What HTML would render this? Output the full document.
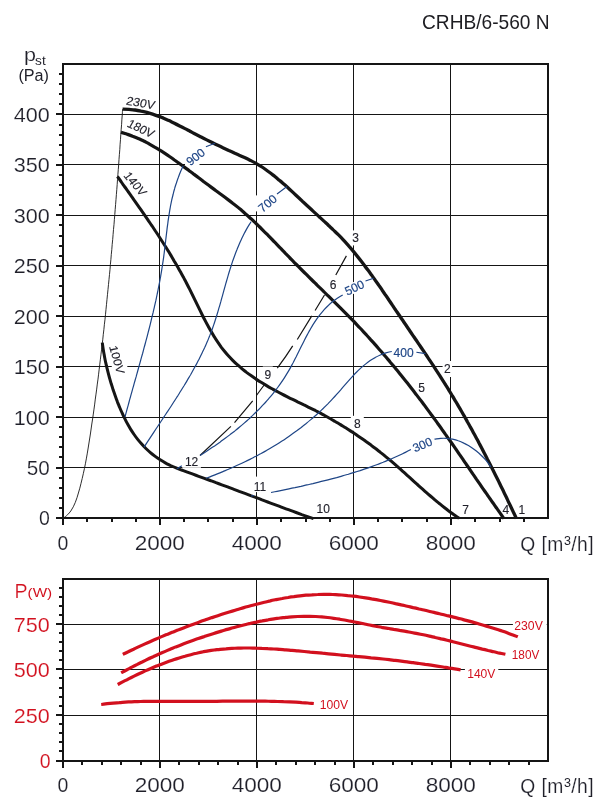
<!DOCTYPE html>
<html><head><meta charset="utf-8"><title>CRHB/6-560 N</title>
<style>html,body{margin:0;padding:0;background:#fff}svg{display:block;will-change:transform}text{stroke:#fff;stroke-width:.16px}.s{stroke:none}.b{stroke:#1f1f29;stroke-width:.14px}.bb{stroke:#1e4586;stroke-width:.18px}</style></head>
<body>
<svg width="605" height="809" viewBox="0 0 605 809" font-family="'Liberation Sans', sans-serif">
<rect width="605" height="809" fill="#fff"/>
<path d="M159.5 64.0V518.0M256.5 64.0V518.0M353.5 64.0V518.0M450.5 64.0V518.0M63.0 114.5H548.0M63.0 164.5H548.0M63.0 215.5H548.0M63.0 265.5H548.0M63.0 316.5H548.0M63.0 366.5H548.0M63.0 417.5H548.0M63.0 467.5H548.0" stroke="#151515" stroke-width="1" fill="none"/>
<path d="M59 508H63M59 498H63M59 488H63M59 478H63M56 468H63M59 457H63M59 447H63M59 437H63M59 427H63M56 417H63M59 407H63M59 397H63M59 387H63M59 377H63M56 367H63M59 357H63M59 347H63M59 336H63M59 326H63M56 316H63M59 306H63M59 296H63M59 286H63M59 276H63M56 266H63M59 256H63M59 246H63M59 236H63M59 225H63M56 215H63M59 205H63M59 195H63M59 185H63M59 175H63M56 165H63M59 155H63M59 145H63M59 135H63M59 125H63M56 114H63M59 104H63M59 94H63M59 84H63M59 74H63M56 518H63M63 518.0V525M87 518.0V522M112 518.0V522M136 518.0V522M160 518.0V525M184 518.0V522M208 518.0V522M233 518.0V522M257 518.0V525M281 518.0V522M306 518.0V522M330 518.0V522M354 518.0V525M378 518.0V522M402 518.0V522M427 518.0V522M451 518.0V525M475 518.0V522M500 518.0V522M524 518.0V522" stroke="#151515" stroke-width="2" fill="none"/>
<path d="M63.6 518.0C64.3 517.5 66.4 515.9 67.6 514.7C68.8 513.6 69.8 512.3 70.8 511.0C71.7 509.7 72.5 508.3 73.3 506.8C74.0 505.4 74.7 503.9 75.3 502.4C75.9 500.9 76.5 499.3 77.0 497.7C77.5 496.2 78.0 494.6 78.4 493.0C78.9 491.4 79.3 489.8 79.8 488.2C80.2 486.6 80.6 485.0 81.0 483.4C81.5 481.8 81.9 480.1 82.2 478.5C82.6 476.9 83.0 475.3 83.3 473.7C83.7 472.0 84.1 470.4 84.4 468.7C84.7 467.1 85.1 465.5 85.4 463.8C85.7 462.2 86.0 460.5 86.3 458.9C86.6 457.2 86.9 455.6 87.2 453.9C87.5 452.3 87.8 450.6 88.0 449.0C88.3 447.3 88.6 445.6 88.8 444.0C89.1 442.3 89.4 440.7 89.6 439.0C89.9 437.3 90.1 435.7 90.4 434.0C90.6 432.4 90.9 430.7 91.1 429.0C91.4 427.4 91.6 425.7 91.8 424.0C92.1 422.4 92.3 420.7 92.6 419.0C92.8 417.4 93.0 415.7 93.3 414.1C93.5 412.4 93.7 410.7 94.0 409.1C94.2 407.4 94.4 405.7 94.7 404.1C94.9 402.4 95.1 400.8 95.3 399.1C95.6 397.4 95.8 395.8 96.0 394.1C96.2 392.4 96.4 390.8 96.7 389.1C96.9 387.5 97.1 385.8 97.3 384.1C97.5 382.5 97.7 380.8 98.0 379.1C98.2 377.5 98.4 375.8 98.6 374.2C98.8 372.5 99.0 370.8 99.2 369.2C99.4 367.5 99.6 365.8 99.8 364.2C100.0 362.5 100.2 360.9 100.4 359.2C100.6 357.5 100.8 355.9 101.0 354.2C101.2 352.5 101.4 350.9 101.6 349.2C101.8 347.6 102.0 345.9 102.2 344.2C102.4 342.6 102.6 340.9 102.8 339.2C102.9 337.6 103.1 335.9 103.3 334.3C103.5 332.6 103.7 330.9 103.9 329.3C104.1 327.6 104.2 325.9 104.4 324.3C104.6 322.6 104.8 321.0 105.0 319.3C105.1 317.6 105.3 316.0 105.5 314.3C105.7 312.6 105.8 311.0 106.0 309.3C106.2 307.6 106.4 306.0 106.5 304.3C106.7 302.7 106.9 301.0 107.0 299.3C107.2 297.7 107.4 296.0 107.5 294.3C107.7 292.7 107.9 291.0 108.0 289.4C108.2 287.7 108.4 286.0 108.5 284.4C108.7 282.7 108.9 281.0 109.0 279.4C109.2 277.7 109.3 276.0 109.5 274.4C109.7 272.7 109.8 271.1 110.0 269.4C110.1 267.7 110.3 266.1 110.4 264.4C110.6 262.7 110.7 261.1 110.9 259.4C111.0 257.7 111.2 256.1 111.3 254.4C111.5 252.7 111.6 251.1 111.8 249.4C111.9 247.8 112.1 246.1 112.2 244.4C112.4 242.8 112.5 241.1 112.7 239.4C112.8 237.8 113.0 236.1 113.1 234.4C113.2 232.8 113.4 231.1 113.5 229.4C113.7 227.8 113.8 226.1 114.0 224.4C114.1 222.8 114.2 221.1 114.4 219.4C114.5 217.8 114.6 216.1 114.8 214.4C114.9 212.8 115.1 211.1 115.2 209.4C115.3 207.8 115.5 206.1 115.6 204.4C115.7 202.8 115.9 201.1 116.0 199.4C116.1 197.8 116.3 196.1 116.4 194.4C116.5 192.8 116.6 191.1 116.8 189.4C116.9 187.8 117.0 186.1 117.2 184.4C117.3 182.8 117.4 181.1 117.5 179.4C117.7 177.7 117.8 176.1 117.9 174.4C118.0 172.7 118.2 171.1 118.3 169.4C118.4 167.7 118.5 166.1 118.7 164.4C118.8 162.7 118.9 161.0 119.0 159.4C119.2 157.7 119.3 156.0 119.4 154.4C119.5 152.7 119.7 151.0 119.8 149.4C119.9 147.7 120.0 146.0 120.1 144.3C120.3 142.7 120.4 141.0 120.5 139.3C120.6 137.7 120.7 136.0 120.8 134.3C121.0 132.6 121.1 131.0 121.2 129.3C121.3 127.6 121.4 125.9 121.6 124.3C121.7 122.6 121.8 120.9 121.9 119.2C122.0 117.6 122.1 115.9 122.3 114.2C122.4 112.5 122.5 110.0 122.6 109.2" stroke="#151515" stroke-width="0.9" fill="none"/>
<path d="M200 455.5L230.9 426.4M234.5 422.7L252.7 400.9M256.4 395.5L264.5 384.5M277.3 368.2Q286 356.5 292.7 345.9M297.3 339.5L311.8 315.9M315.1 310.5L324.5 295M335.8 275L346.4 255.9" stroke="#151515" stroke-width="1.2" fill="none"/>
<rect x="442.6" y="361.0" width="9.5" height="16.0" fill="#fff"/>
<rect x="350.9" y="230.4" width="9.5" height="15.0" fill="#fff"/>
<rect x="328.2" y="279.1" width="9.5" height="11.0" fill="#fff"/>
<rect x="350.8" y="415.8" width="13.0" height="15.0" fill="#fff"/>
<rect x="262.8" y="366.5" width="10.0" height="16.0" fill="#fff"/>
<rect x="251.4" y="481.1" width="17.0" height="11.0" fill="#fff"/>
<rect x="255" y="476.6" width="3" height="12" fill="#fff"/>
<rect x="182.3" y="455.8" width="18.6" height="12.0" fill="#fff"/>
<rect transform="translate(195.4 156.8) rotate(-38.0)" x="-11.0" y="-5.4" width="22.0" height="10.8" fill="#fff"/>
<rect x="185" y="163" width="14.5" height="3" fill="#fff"/>
<rect x="255" y="195.4" width="3" height="16" fill="#fff"/>
<rect transform="translate(267.5 203.3) rotate(-40.0)" x="-11.0" y="-5.4" width="22.0" height="10.8" fill="#fff"/>
<rect transform="translate(354.5 287.5) rotate(-25.0)" x="-11.0" y="-5.4" width="22.0" height="10.8" fill="#fff"/>
<rect transform="translate(403.6 352.7) rotate(0.0)" x="-11.0" y="-5.4" width="22.0" height="10.8" fill="#fff"/>
<rect transform="translate(422.4 444.6) rotate(-24.0)" x="-11.0" y="-5.4" width="22.0" height="10.8" fill="#fff"/>
<rect transform="translate(109.0 346.4) rotate(74.0)" x="-1" y="-12.1" width="31.0" height="15.0" fill="#fff"/>
<path d="M122.6 109.2C123.7 109.2 126.9 109.3 129.0 109.4C131.0 109.5 133.1 109.8 135.1 110.0C137.1 110.3 139.1 110.7 141.1 111.1C143.0 111.4 145.0 111.9 146.9 112.4C148.8 112.9 150.7 113.5 152.6 114.1C154.4 114.7 156.3 115.4 158.1 116.1C160.0 116.7 161.8 117.5 163.6 118.2C165.4 119.0 167.2 119.8 169.0 120.6C170.8 121.5 172.6 122.3 174.4 123.2C176.1 124.1 177.9 125.0 179.7 125.9C181.5 126.8 183.2 127.7 185.0 128.6C186.8 129.6 188.6 130.5 190.4 131.5C192.1 132.4 193.9 133.4 195.7 134.3C197.6 135.2 199.4 136.2 201.2 137.1C203.0 138.0 204.9 139.0 206.7 139.9C208.5 140.8 210.4 141.7 212.2 142.6C214.1 143.5 215.9 144.4 217.8 145.3C219.6 146.2 221.5 147.1 223.3 147.9C225.1 148.8 227.0 149.6 228.8 150.5C230.7 151.3 232.5 152.1 234.3 153.0C236.1 153.8 237.9 154.6 239.7 155.4C241.5 156.2 243.3 157.0 245.1 157.8C246.9 158.7 248.6 159.5 250.4 160.4C252.1 161.3 253.8 162.2 255.6 163.1C257.3 164.1 258.9 165.1 260.6 166.2C262.3 167.2 263.9 168.3 265.6 169.5C267.2 170.6 268.8 171.8 270.4 173.0C272.0 174.2 273.6 175.5 275.2 176.7C276.7 178.0 278.3 179.3 279.8 180.6C281.4 181.9 282.9 183.3 284.4 184.6C286.0 186.0 287.5 187.4 289.0 188.7C290.5 190.1 292.0 191.5 293.5 192.9C295.0 194.3 296.4 195.6 297.9 197.0C299.4 198.4 300.9 199.8 302.3 201.2C303.8 202.5 305.3 203.9 306.7 205.2C308.2 206.6 309.7 208.0 311.1 209.3C312.6 210.7 314.0 212.0 315.5 213.4C316.9 214.7 318.4 216.1 319.9 217.4C321.3 218.7 322.8 220.1 324.2 221.4C325.7 222.8 327.2 224.1 328.6 225.5C330.1 226.9 331.6 228.2 333.0 229.6C334.5 231.0 335.9 232.4 337.4 233.8C338.8 235.2 340.3 236.6 341.7 238.1C343.1 239.6 344.4 241.1 345.8 242.6C347.2 244.1 348.5 245.6 349.8 247.2C351.2 248.7 352.5 250.3 353.8 251.9C355.0 253.4 356.3 255.0 357.6 256.6C358.8 258.1 360.1 259.7 361.3 261.3C362.5 262.9 363.7 264.5 364.9 266.1C366.1 267.6 367.3 269.2 368.5 270.8C369.7 272.4 370.8 274.0 372.0 275.6C373.1 277.2 374.3 278.8 375.4 280.5C376.6 282.1 377.7 283.7 378.8 285.3C380.0 286.9 381.1 288.5 382.2 290.2C383.3 291.8 384.4 293.4 385.5 295.1C386.7 296.7 387.8 298.3 388.9 300.0C390.0 301.6 391.1 303.2 392.2 304.9C393.3 306.5 394.4 308.2 395.5 309.8C396.6 311.5 397.8 313.1 398.9 314.8C400.0 316.4 401.1 318.1 402.3 319.8C403.4 321.4 404.5 323.1 405.7 324.8C406.8 326.4 407.9 328.1 409.1 329.8C410.2 331.4 411.4 333.1 412.5 334.8C413.6 336.5 414.8 338.1 415.9 339.8C417.1 341.5 418.2 343.2 419.4 344.9C420.5 346.6 421.7 348.3 422.8 349.9C423.9 351.6 425.1 353.3 426.2 355.0C427.3 356.7 428.5 358.4 429.6 360.1C430.7 361.8 431.9 363.5 433.0 365.2C434.1 366.9 435.2 368.6 436.3 370.3C437.4 372.0 438.5 373.7 439.6 375.4C440.7 377.2 441.8 378.9 442.9 380.6C444.0 382.3 445.1 384.0 446.1 385.7C447.2 387.4 448.3 389.1 449.3 390.9C450.4 392.6 451.4 394.3 452.4 396.0C453.5 397.7 454.5 399.5 455.5 401.2C456.6 402.9 457.6 404.6 458.6 406.4C459.6 408.1 460.6 409.8 461.6 411.5C462.6 413.3 463.6 415.0 464.6 416.7C465.6 418.5 466.6 420.2 467.5 422.0C468.5 423.7 469.5 425.4 470.4 427.2C471.4 428.9 472.4 430.7 473.3 432.4C474.3 434.2 475.2 435.9 476.2 437.7C477.1 439.4 478.1 441.2 479.0 443.0C479.9 444.7 480.9 446.5 481.8 448.2C482.7 450.0 483.6 451.8 484.5 453.5C485.5 455.3 486.4 457.1 487.3 458.9C488.2 460.6 489.1 462.4 490.0 464.2C490.9 466.0 491.8 467.8 492.7 469.5C493.6 471.3 494.5 473.1 495.4 474.9C496.3 476.7 497.2 478.5 498.1 480.3C499.0 482.1 499.8 483.9 500.7 485.7C501.6 487.5 502.5 489.3 503.4 491.1C504.2 493.0 505.1 494.8 506.0 496.6C506.9 498.4 507.7 500.2 508.6 502.1C509.5 503.9 510.3 505.7 511.2 507.5C512.1 509.4 512.9 511.2 513.8 513.1C514.7 514.9 516.0 517.7 516.4 518.6" stroke="#151515" stroke-width="3.3" fill="none" stroke-linejoin="round"/>
<path d="M121.0 132.3C122.0 132.6 125.0 133.4 126.9 134.1C128.8 134.7 130.7 135.4 132.6 136.2C134.5 136.9 136.4 137.7 138.2 138.5C140.1 139.3 141.9 140.2 143.7 141.0C145.5 141.9 147.2 142.9 149.0 143.8C150.8 144.8 152.5 145.8 154.2 146.8C156.0 147.8 157.7 148.8 159.4 149.9C161.1 150.9 162.8 152.0 164.5 153.1C166.1 154.2 167.8 155.4 169.5 156.5C171.1 157.6 172.8 158.8 174.4 160.0C176.1 161.1 177.7 162.3 179.4 163.5C181.0 164.7 182.7 165.9 184.3 167.1C185.9 168.3 187.6 169.5 189.2 170.7C190.8 171.9 192.5 173.1 194.1 174.4C195.7 175.6 197.3 176.8 199.0 178.0C200.6 179.2 202.2 180.4 203.8 181.7C205.5 182.9 207.1 184.1 208.7 185.3C210.3 186.5 211.9 187.7 213.5 188.9C215.1 190.1 216.8 191.3 218.4 192.5C220.0 193.7 221.6 194.8 223.2 196.0C224.8 197.2 226.4 198.4 228.0 199.6C229.6 200.8 231.2 202.0 232.7 203.2C234.3 204.4 235.9 205.6 237.4 206.9C238.9 208.2 240.5 209.4 242.0 210.7C243.5 212.0 245.0 213.4 246.5 214.7C248.0 216.0 249.5 217.4 251.0 218.7C252.4 220.1 253.9 221.5 255.4 222.8C256.8 224.2 258.3 225.6 259.7 227.0C261.2 228.5 262.6 229.9 264.0 231.3C265.5 232.7 266.9 234.2 268.3 235.6C269.7 237.1 271.1 238.5 272.6 240.0C274.0 241.4 275.4 242.9 276.8 244.3C278.2 245.8 279.6 247.3 281.0 248.7C282.4 250.2 283.8 251.6 285.2 253.1C286.7 254.6 288.1 256.0 289.5 257.5C290.9 258.9 292.3 260.4 293.7 261.8C295.1 263.3 296.6 264.7 298.0 266.2C299.4 267.6 300.8 269.0 302.3 270.5C303.7 271.9 305.1 273.3 306.6 274.7C308.0 276.2 309.4 277.6 310.9 279.0C312.3 280.4 313.7 281.8 315.2 283.2C316.6 284.6 318.1 286.0 319.5 287.4C321.0 288.8 322.4 290.2 323.8 291.7C325.3 293.1 326.7 294.5 328.2 295.9C329.6 297.3 331.0 298.7 332.5 300.1C333.9 301.5 335.3 302.9 336.8 304.3C338.2 305.7 339.6 307.1 341.1 308.6C342.5 310.0 343.9 311.4 345.3 312.8C346.7 314.3 348.1 315.7 349.5 317.1C351.0 318.6 352.4 320.0 353.8 321.4C355.1 322.9 356.5 324.4 357.9 325.8C359.3 327.3 360.7 328.7 362.1 330.2C363.4 331.7 364.8 333.2 366.2 334.7C367.5 336.1 368.9 337.6 370.2 339.1C371.6 340.6 372.9 342.1 374.3 343.6C375.6 345.1 377.0 346.7 378.3 348.2C379.6 349.7 381.0 351.2 382.3 352.7C383.6 354.3 384.9 355.8 386.2 357.3C387.5 358.9 388.8 360.4 390.1 362.0C391.4 363.5 392.7 365.1 394.0 366.6C395.3 368.2 396.6 369.7 397.9 371.3C399.2 372.9 400.4 374.4 401.7 376.0C403.0 377.6 404.2 379.2 405.5 380.7C406.8 382.3 408.0 383.9 409.3 385.5C410.5 387.1 411.7 388.7 413.0 390.3C414.2 391.9 415.5 393.5 416.7 395.1C417.9 396.7 419.1 398.3 420.4 399.9C421.6 401.5 422.8 403.1 424.0 404.7C425.2 406.4 426.4 408.0 427.6 409.6C428.8 411.2 430.0 412.8 431.2 414.5C432.4 416.1 433.6 417.7 434.8 419.4C436.0 421.0 437.2 422.6 438.3 424.3C439.5 425.9 440.7 427.5 441.8 429.2C443.0 430.8 444.2 432.5 445.3 434.1C446.5 435.7 447.6 437.4 448.8 439.0C450.0 440.7 451.1 442.3 452.3 444.0C453.4 445.6 454.6 447.3 455.7 448.9C456.8 450.6 458.0 452.2 459.1 453.9C460.3 455.6 461.4 457.2 462.6 458.9C463.7 460.5 464.8 462.2 466.0 463.8C467.1 465.5 468.3 467.2 469.4 468.8C470.5 470.5 471.7 472.1 472.8 473.8C474.0 475.5 475.1 477.1 476.2 478.8C477.4 480.5 478.5 482.1 479.7 483.8C480.8 485.4 481.9 487.1 483.1 488.8C484.2 490.4 485.4 492.1 486.5 493.7C487.7 495.4 488.8 497.1 490.0 498.7C491.1 500.4 492.3 502.0 493.5 503.7C494.6 505.4 495.8 507.0 497.0 508.7C498.1 510.3 499.3 512.0 500.5 513.6C501.6 515.3 503.4 517.8 504.0 518.6" stroke="#151515" stroke-width="3.2" fill="none" stroke-linejoin="round"/>
<path d="M117.4 176.5C118.0 177.3 119.8 179.8 121.0 181.5C122.1 183.2 123.3 184.8 124.5 186.5C125.7 188.1 126.8 189.8 128.0 191.4C129.2 193.1 130.4 194.7 131.5 196.4C132.7 198.0 133.8 199.7 135.0 201.3C136.2 203.0 137.3 204.6 138.5 206.3C139.6 207.9 140.8 209.5 141.9 211.2C143.0 212.8 144.2 214.5 145.3 216.1C146.5 217.8 147.6 219.4 148.7 221.1C149.8 222.7 150.9 224.4 152.1 226.0C153.2 227.7 154.3 229.3 155.4 231.0C156.5 232.6 157.6 234.3 158.7 236.0C159.7 237.6 160.8 239.3 161.9 241.0C163.0 242.7 164.0 244.3 165.1 246.0C166.2 247.7 167.2 249.4 168.3 251.1C169.3 252.8 170.3 254.5 171.4 256.2C172.4 257.9 173.4 259.6 174.4 261.4C175.4 263.1 176.5 264.8 177.4 266.6C178.4 268.3 179.4 270.1 180.4 271.8C181.4 273.6 182.4 275.3 183.3 277.1C184.3 278.9 185.2 280.7 186.2 282.5C187.1 284.3 188.0 286.1 189.0 287.9C189.9 289.7 190.8 291.5 191.7 293.4C192.6 295.2 193.5 297.0 194.4 298.9C195.3 300.7 196.2 302.6 197.1 304.4C198.0 306.3 198.9 308.1 199.8 309.9C200.7 311.8 201.6 313.6 202.5 315.5C203.4 317.3 204.4 319.1 205.3 320.9C206.2 322.7 207.2 324.5 208.2 326.3C209.2 328.1 210.1 329.9 211.2 331.6C212.2 333.4 213.2 335.1 214.3 336.8C215.3 338.5 216.4 340.2 217.6 341.9C218.7 343.5 219.8 345.1 221.0 346.8C222.2 348.4 223.4 349.9 224.7 351.5C225.9 353.0 227.2 354.5 228.6 356.0C229.9 357.5 231.3 358.9 232.7 360.3C234.1 361.7 235.5 363.1 237.0 364.4C238.5 365.7 240.0 367.1 241.5 368.3C243.0 369.6 244.6 370.8 246.2 372.1C247.8 373.3 249.4 374.5 251.0 375.6C252.7 376.8 254.3 377.9 256.0 379.1C257.7 380.2 259.4 381.3 261.1 382.3C262.8 383.4 264.5 384.4 266.2 385.4C268.0 386.5 269.7 387.5 271.5 388.5C273.2 389.4 275.0 390.4 276.8 391.3C278.5 392.3 280.3 393.2 282.1 394.1C283.8 395.0 285.6 395.9 287.4 396.8C289.1 397.7 290.9 398.6 292.7 399.4C294.5 400.3 296.3 401.2 298.0 402.1C299.8 402.9 301.6 403.8 303.4 404.7C305.2 405.5 306.9 406.4 308.7 407.3C310.5 408.2 312.3 409.0 314.1 409.9C315.8 410.8 317.6 411.8 319.4 412.7C321.2 413.6 322.9 414.6 324.7 415.5C326.5 416.5 328.2 417.5 330.0 418.5C331.7 419.4 333.5 420.5 335.2 421.5C337.0 422.5 338.7 423.6 340.5 424.6C342.2 425.7 344.0 426.7 345.7 427.8C347.4 428.9 349.1 430.0 350.8 431.1C352.5 432.2 354.3 433.4 356.0 434.5C357.6 435.7 359.3 436.8 361.0 438.0C362.7 439.2 364.4 440.3 366.0 441.5C367.7 442.7 369.3 443.9 371.0 445.1C372.6 446.4 374.2 447.6 375.9 448.8C377.5 450.1 379.1 451.3 380.7 452.6C382.3 453.8 383.9 455.1 385.4 456.4C387.0 457.7 388.5 459.0 390.1 460.2C391.6 461.5 393.2 462.9 394.7 464.2C396.2 465.5 397.7 466.8 399.2 468.1C400.7 469.4 402.2 470.8 403.7 472.1C405.2 473.4 406.6 474.8 408.1 476.1C409.6 477.4 411.1 478.8 412.5 480.1C414.0 481.5 415.5 482.8 417.0 484.1C418.4 485.5 419.9 486.8 421.4 488.1C422.9 489.4 424.4 490.8 425.9 492.1C427.4 493.4 428.9 494.7 430.4 496.0C431.9 497.3 433.4 498.6 434.9 499.9C436.5 501.2 438.0 502.5 439.6 503.7C441.1 505.0 442.7 506.3 444.3 507.5C445.9 508.8 447.5 510.0 449.1 511.2C450.7 512.4 452.4 513.6 454.0 514.8C455.7 516.0 458.3 517.7 459.1 518.3" stroke="#151515" stroke-width="3.05" fill="none" stroke-linejoin="round"/>
<path d="M102.3 342.7C102.4 343.7 102.8 346.5 103.1 348.5C103.4 350.4 103.7 352.4 104.1 354.3C104.4 356.3 104.8 358.3 105.2 360.2C105.6 362.2 106.1 364.2 106.5 366.2C107.0 368.2 107.5 370.2 108.0 372.2C108.5 374.2 109.0 376.2 109.6 378.2C110.1 380.1 110.7 382.1 111.3 384.1C112.0 386.1 112.6 388.1 113.2 390.1C113.9 392.0 114.6 394.0 115.3 396.0C116.0 397.9 116.7 399.9 117.4 401.8C118.2 403.7 118.9 405.6 119.7 407.5C120.5 409.4 121.3 411.3 122.2 413.2C123.0 415.1 123.9 416.9 124.8 418.7C125.7 420.6 126.6 422.4 127.6 424.1C128.6 425.9 129.6 427.7 130.7 429.4C131.8 431.1 132.9 432.8 134.1 434.5C135.2 436.1 136.4 437.8 137.7 439.4C139.0 441.0 140.3 442.5 141.7 444.1C143.0 445.6 144.4 447.1 145.9 448.5C147.4 449.9 148.9 451.3 150.4 452.6C152.0 454.0 153.6 455.2 155.2 456.4C156.8 457.6 158.5 458.8 160.2 459.8C161.9 460.9 163.6 461.9 165.3 462.8C167.1 463.8 168.8 464.6 170.6 465.5C172.4 466.3 174.3 467.1 176.1 467.8C177.9 468.6 179.8 469.3 181.6 470.0C183.5 470.7 185.4 471.4 187.3 472.1C189.2 472.8 191.1 473.5 193.0 474.2C194.9 474.9 196.8 475.6 198.7 476.3C200.6 477.0 202.5 477.7 204.4 478.4C206.4 479.1 208.3 479.8 210.2 480.5C212.1 481.2 214.1 481.9 216.0 482.7C217.9 483.4 219.9 484.1 221.8 484.8C223.7 485.5 225.7 486.2 227.6 486.9C229.5 487.7 231.5 488.4 233.4 489.1C235.3 489.8 237.3 490.5 239.2 491.3C241.1 492.0 243.0 492.7 244.9 493.4C246.9 494.1 248.8 494.8 250.7 495.6C252.6 496.3 254.5 497.0 256.4 497.7C258.3 498.4 260.2 499.1 262.1 499.9C264.0 500.6 265.9 501.3 267.7 502.0C269.6 502.7 271.5 503.4 273.4 504.1C275.3 504.8 277.1 505.5 279.0 506.2C280.9 507.0 282.8 507.7 284.7 508.4C286.6 509.1 288.5 509.7 290.4 510.4C292.3 511.1 294.2 511.8 296.1 512.5C298.0 513.2 299.9 513.9 301.8 514.6C303.7 515.2 305.7 515.9 307.6 516.6C309.6 517.3 312.5 518.3 313.5 518.6" stroke="#151515" stroke-width="3" fill="none" stroke-linejoin="round"/>
<path d="M125.0 416.9C125.3 416.0 126.0 413.1 126.5 411.3C127.0 409.4 127.5 407.5 128.1 405.6C128.6 403.7 129.1 401.8 129.6 399.9C130.2 398.0 130.7 396.1 131.2 394.2C131.8 392.2 132.3 390.3 132.8 388.4C133.4 386.5 133.9 384.6 134.4 382.6C135.0 380.7 135.5 378.8 136.1 376.9C136.6 374.9 137.2 373.0 137.7 371.0C138.2 369.1 138.8 367.2 139.3 365.2C139.9 363.3 140.4 361.3 140.9 359.4C141.5 357.4 142.0 355.5 142.6 353.5C143.1 351.6 143.6 349.6 144.1 347.7C144.7 345.7 145.2 343.7 145.7 341.8C146.2 339.8 146.8 337.9 147.3 335.9C147.8 333.9 148.3 332.0 148.8 330.0C149.3 328.0 149.8 326.1 150.3 324.1C150.8 322.1 151.3 320.1 151.7 318.2C152.2 316.2 152.7 314.2 153.2 312.2C153.6 310.3 154.1 308.3 154.5 306.3C155.0 304.3 155.4 302.4 155.9 300.4C156.3 298.4 156.7 296.4 157.1 294.5C157.5 292.5 158.0 290.5 158.3 288.5C158.7 286.5 159.1 284.6 159.5 282.6C159.9 280.6 160.2 278.6 160.6 276.7C160.9 274.7 161.3 272.7 161.6 270.7C161.9 268.7 162.2 266.8 162.5 264.8C162.8 262.8 163.1 260.8 163.4 258.9C163.7 256.9 163.9 254.9 164.2 253.0C164.4 251.0 164.7 249.0 164.9 247.1C165.1 245.1 165.4 243.1 165.6 241.2C165.8 239.2 166.1 237.2 166.3 235.3C166.5 233.3 166.8 231.4 167.0 229.4C167.2 227.4 167.5 225.5 167.8 223.5C168.0 221.6 168.3 219.6 168.6 217.7C168.9 215.7 169.2 213.8 169.5 211.9C169.8 209.9 170.2 208.0 170.5 206.0C170.9 204.1 171.3 202.2 171.7 200.2C172.1 198.3 172.6 196.4 173.1 194.5C173.5 192.5 174.0 190.6 174.6 188.7C175.1 186.8 175.7 184.9 176.4 183.0C177.0 181.1 177.6 179.2 178.4 177.3C179.1 175.4 179.8 173.5 180.6 171.6C181.4 169.7 182.8 166.8 183.2 165.9" stroke="#1e4586" stroke-width="1.2" fill="none"/>
<path d="M144.1 447.1C144.6 446.3 146.2 443.8 147.3 442.1C148.4 440.5 149.5 438.8 150.6 437.1C151.7 435.5 152.8 433.8 153.9 432.1C155.0 430.4 156.1 428.7 157.3 427.0C158.4 425.4 159.5 423.7 160.6 422.0C161.8 420.3 162.9 418.6 164.0 416.8C165.2 415.1 166.3 413.4 167.5 411.7C168.6 410.0 169.7 408.3 170.9 406.5C172.0 404.8 173.1 403.1 174.2 401.3C175.4 399.6 176.5 397.8 177.6 396.1C178.7 394.3 179.8 392.6 180.9 390.8C182.0 389.0 183.1 387.2 184.2 385.5C185.3 383.7 186.4 381.9 187.4 380.1C188.5 378.3 189.5 376.5 190.6 374.7C191.6 372.9 192.6 371.1 193.6 369.3C194.6 367.5 195.6 365.7 196.6 363.9C197.5 362.0 198.5 360.2 199.4 358.4C200.4 356.5 201.3 354.7 202.2 352.8C203.1 351.0 203.9 349.1 204.8 347.3C205.6 345.4 206.5 343.5 207.3 341.6C208.1 339.8 208.8 337.9 209.6 336.0C210.3 334.1 211.1 332.2 211.8 330.3C212.5 328.4 213.1 326.5 213.8 324.6C214.4 322.7 215.1 320.7 215.7 318.8C216.3 316.9 216.9 315.0 217.5 313.0C218.1 311.1 218.6 309.2 219.2 307.2C219.8 305.3 220.3 303.3 220.9 301.4C221.4 299.5 221.9 297.5 222.5 295.6C223.0 293.6 223.6 291.7 224.1 289.7C224.7 287.8 225.2 285.8 225.7 283.9C226.3 282.0 226.8 280.0 227.4 278.1C228.0 276.2 228.5 274.2 229.1 272.3C229.7 270.4 230.3 268.4 230.9 266.5C231.6 264.6 232.2 262.7 232.8 260.7C233.5 258.8 234.2 256.9 234.9 255.0C235.6 253.1 236.3 251.2 237.1 249.3C237.8 247.5 238.6 245.6 239.4 243.7C240.2 241.8 241.1 240.0 242.0 238.1C242.9 236.3 243.8 234.4 244.7 232.6C245.7 230.7 246.7 228.9 247.7 227.1C248.8 225.3 250.5 222.6 251.0 221.7" stroke="#1e4586" stroke-width="1.2" fill="none"/>
<path d="M176.9 469.0C177.7 468.4 181.0 466.2 181.8 465.7" stroke="#1e4586" stroke-width="1.2" fill="none"/>
<path d="M200.0 455.5C200.9 454.9 203.4 453.3 205.1 452.2C206.8 451.1 208.5 450.0 210.2 448.8C211.9 447.7 213.6 446.5 215.3 445.4C217.0 444.2 218.6 443.1 220.3 441.9C221.9 440.7 223.6 439.5 225.2 438.3C226.9 437.1 228.5 435.9 230.1 434.6C231.7 433.4 233.3 432.1 234.9 430.9C236.5 429.6 238.1 428.3 239.6 427.0C241.2 425.7 242.7 424.4 244.2 423.1C245.8 421.8 247.3 420.4 248.8 419.1C250.3 417.7 251.7 416.3 253.2 414.9C254.7 413.6 256.1 412.1 257.5 410.7C259.0 409.3 260.4 407.9 261.7 406.4C263.1 404.9 264.5 403.5 265.8 402.0C267.2 400.5 268.5 398.9 269.8 397.4C271.1 395.9 272.4 394.3 273.6 392.8C274.9 391.2 276.1 389.6 277.3 388.0C278.5 386.4 279.7 384.7 280.8 383.1C282.0 381.4 283.1 379.8 284.2 378.1C285.3 376.4 286.4 374.6 287.4 372.9C288.5 371.2 289.5 369.4 290.5 367.6C291.5 365.8 292.4 364.0 293.4 362.2C294.3 360.4 295.2 358.6 296.2 356.8C297.1 354.9 298.0 353.1 298.9 351.3C299.8 349.4 300.7 347.6 301.6 345.8C302.5 343.9 303.5 342.1 304.4 340.3C305.3 338.5 306.2 336.7 307.2 334.9C308.2 333.1 309.1 331.3 310.1 329.6C311.1 327.8 312.2 326.1 313.2 324.4C314.3 322.7 315.4 321.0 316.5 319.4C317.6 317.8 318.8 316.2 320.0 314.6C321.2 313.1 322.5 311.5 323.8 310.1C325.2 308.6 326.5 307.2 328.0 305.8C329.4 304.4 330.9 303.1 332.4 301.8C334.0 300.6 335.6 299.4 337.3 298.2C339.1 297.1 341.8 295.5 342.7 295.0" stroke="#1e4586" stroke-width="1.2" fill="none"/>
<path d="M205.9 478.3C206.9 477.9 209.7 476.9 211.6 476.1C213.5 475.4 215.4 474.7 217.3 473.9C219.2 473.2 221.1 472.4 222.9 471.6C224.8 470.8 226.7 470.1 228.5 469.3C230.4 468.5 232.2 467.7 234.1 466.8C235.9 466.0 237.7 465.2 239.6 464.3C241.4 463.5 243.2 462.6 245.0 461.7C246.8 460.9 248.6 460.0 250.4 459.1C252.2 458.2 254.0 457.2 255.8 456.3C257.5 455.4 259.3 454.4 261.1 453.5C262.8 452.5 264.6 451.5 266.3 450.6C268.0 449.6 269.8 448.6 271.5 447.5C273.2 446.5 274.9 445.5 276.6 444.4C278.3 443.4 280.0 442.3 281.6 441.2C283.3 440.2 285.0 439.1 286.6 437.9C288.3 436.8 289.9 435.7 291.5 434.5C293.2 433.4 294.8 432.2 296.4 431.1C298.0 429.9 299.6 428.7 301.2 427.5C302.7 426.2 304.3 425.0 305.9 423.8C307.4 422.5 308.9 421.2 310.5 419.9C312.0 418.6 313.5 417.3 315.0 416.0C316.5 414.7 318.0 413.3 319.5 412.0C320.9 410.6 322.4 409.2 323.8 407.8C325.3 406.4 326.7 405.0 328.1 403.6C329.5 402.1 330.9 400.7 332.3 399.2C333.7 397.7 335.1 396.2 336.4 394.7C337.8 393.1 339.1 391.6 340.5 390.1C341.8 388.5 343.1 387.0 344.5 385.4C345.8 383.9 347.1 382.4 348.5 380.8C349.8 379.3 351.2 377.8 352.6 376.3C353.9 374.9 355.3 373.4 356.7 372.0C358.1 370.6 359.6 369.2 361.0 367.9C362.5 366.6 364.0 365.3 365.5 364.1C367.0 362.9 368.6 361.7 370.2 360.6C371.8 359.5 373.4 358.5 375.1 357.6C376.8 356.6 378.5 355.8 380.3 355.0C382.1 354.2 384.0 353.5 385.9 352.9C387.8 352.4 390.8 351.7 391.8 351.5" stroke="#1e4586" stroke-width="1.2" fill="none"/>
<path d="M251.0 496.0C251.5 495.9 253.5 495.6 254.0 495.5" stroke="#1e4586" stroke-width="1.2" fill="none"/>
<path d="M271.0 492.5C272.0 492.3 275.0 491.7 277.0 491.3C279.0 490.9 281.0 490.5 283.0 490.1C285.0 489.7 287.0 489.3 289.0 488.8C291.0 488.4 292.9 488.0 294.9 487.6C296.9 487.1 298.9 486.7 300.9 486.3C302.9 485.8 304.9 485.4 306.9 484.9C308.9 484.5 310.9 484.0 312.9 483.6C314.9 483.1 316.8 482.6 318.8 482.1C320.8 481.7 322.8 481.2 324.8 480.7C326.8 480.2 328.7 479.7 330.7 479.1C332.7 478.6 334.7 478.1 336.6 477.6C338.6 477.0 340.6 476.5 342.5 475.9C344.5 475.4 346.4 474.8 348.4 474.2C350.4 473.6 352.3 473.0 354.2 472.4C356.2 471.8 358.1 471.2 360.1 470.6C362.0 469.9 363.9 469.3 365.9 468.6C367.8 468.0 369.7 467.3 371.6 466.6C373.5 465.9 375.5 465.2 377.4 464.5C379.3 463.8 381.2 463.0 383.1 462.3C384.9 461.5 386.8 460.7 388.7 459.9C390.6 459.2 392.5 458.4 394.3 457.5C396.2 456.7 398.0 455.9 399.9 455.0C401.7 454.1 403.6 453.3 405.4 452.4C407.3 451.5 410.0 450.1 410.9 449.6" stroke="#1e4586" stroke-width="1.2" fill="none"/>
<path d="M434.5 439.2C435.5 439.1 438.6 438.5 440.6 438.3C442.6 438.2 444.6 438.2 446.6 438.3C448.6 438.5 450.6 438.8 452.5 439.2C454.4 439.6 456.4 440.1 458.3 440.8C460.2 441.4 462.0 442.2 463.8 443.1C465.7 443.9 467.4 444.9 469.2 445.9C470.9 447.0 472.6 448.1 474.3 449.4C475.9 450.6 477.5 451.9 479.0 453.2C480.5 454.6 482.0 456.0 483.4 457.5C484.8 458.9 486.1 460.5 487.4 462.0C488.6 463.6 490.3 466.0 490.9 466.8" stroke="#1e4586" stroke-width="1.2" fill="none"/>
<path d="M205.9 146.8L215 143.2M277 194L287 186.5M365.5 281L373.6 278.3M416.4 352.2L425.5 353.6" stroke="#1e4586" stroke-width="1.1" fill="none"/>
<rect x="63.0" y="64.0" width="485.0" height="454.0" fill="none" stroke="#151515" stroke-width="2"/>
<text class="b" x="521.8" y="513.8" font-size="12" fill="#1f1f29" text-anchor="middle">1</text>
<text class="b" x="447.3" y="373.3" font-size="12" fill="#1f1f29" text-anchor="middle">2</text>
<text class="b" x="355.6" y="242.2" font-size="12" fill="#1f1f29" text-anchor="middle">3</text>
<text class="b" x="505.8" y="513.8" font-size="12" fill="#1f1f29" text-anchor="middle">4</text>
<text class="b" x="421.7" y="391.7" font-size="12" fill="#1f1f29" text-anchor="middle">5</text>
<text class="b" x="333.0" y="288.9" font-size="12" fill="#1f1f29" text-anchor="middle">6</text>
<text class="b" x="465.6" y="513.8" font-size="12" fill="#1f1f29" text-anchor="middle">7</text>
<text class="b" x="357.3" y="427.6" font-size="12" fill="#1f1f29" text-anchor="middle">8</text>
<text class="b" x="267.8" y="378.8" font-size="12" fill="#1f1f29" text-anchor="middle">9</text>
<text class="b" x="323.2" y="512.9" font-size="12" fill="#1f1f29" text-anchor="middle">10</text>
<text class="b" x="259.9" y="490.9" font-size="12" fill="#1f1f29" text-anchor="middle">11</text>
<text class="b" x="191.6" y="466.1" font-size="12" fill="#1f1f29" text-anchor="middle">12</text>
<text class="bb" transform="translate(195.4 156.8) rotate(-38.0)" x="0" y="4.3" font-size="12" fill="#1e4586" text-anchor="middle">900</text>
<text class="bb" transform="translate(267.5 203.3) rotate(-40.0)" x="0" y="4.3" font-size="12" fill="#1e4586" text-anchor="middle">700</text>
<text class="bb" transform="translate(354.5 287.5) rotate(-25.0)" x="0" y="4.3" font-size="12" fill="#1e4586" text-anchor="middle">500</text>
<text class="bb" transform="translate(403.6 352.7) rotate(0.0)" x="0" y="4.3" font-size="12" fill="#1e4586" text-anchor="middle">400</text>
<text class="bb" transform="translate(422.4 444.6) rotate(-24.0)" x="0" y="4.3" font-size="12" fill="#1e4586" text-anchor="middle">300</text>
<text class="b" transform="translate(125.6 104.4) rotate(10.0) skewX(-5)" font-size="12" fill="#1f1f29" textLength="28.5" lengthAdjust="spacingAndGlyphs">230V</text>
<text class="b" transform="translate(126.2 126.3) rotate(25.0) skewX(-5)" font-size="12" fill="#1f1f29" textLength="28.0" lengthAdjust="spacingAndGlyphs">180V</text>
<text class="b" transform="translate(123.0 175.8) rotate(50.0) skewX(-5)" font-size="12" fill="#1f1f29" textLength="27.5" lengthAdjust="spacingAndGlyphs">140V</text>
<text class="b" transform="translate(109.0 346.4) rotate(74.0) skewX(-5)" font-size="11.5" fill="#1f1f29" textLength="29.0" lengthAdjust="spacingAndGlyphs">100V</text>
<text x="49.8" y="121.8" font-size="19.5" fill="#1f1f29" text-anchor="end" textLength="36.0" lengthAdjust="spacingAndGlyphs">400</text>
<text x="49.8" y="171.8" font-size="19.5" fill="#1f1f29" text-anchor="end" textLength="36.0" lengthAdjust="spacingAndGlyphs">350</text>
<text x="49.8" y="222.8" font-size="19.5" fill="#1f1f29" text-anchor="end" textLength="36.0" lengthAdjust="spacingAndGlyphs">300</text>
<text x="49.8" y="272.8" font-size="19.5" fill="#1f1f29" text-anchor="end" textLength="36.0" lengthAdjust="spacingAndGlyphs">250</text>
<text x="49.8" y="323.8" font-size="19.5" fill="#1f1f29" text-anchor="end" textLength="36.0" lengthAdjust="spacingAndGlyphs">200</text>
<text x="49.8" y="373.8" font-size="19.5" fill="#1f1f29" text-anchor="end" textLength="36.0" lengthAdjust="spacingAndGlyphs">150</text>
<text x="49.8" y="424.8" font-size="19.5" fill="#1f1f29" text-anchor="end" textLength="36.0" lengthAdjust="spacingAndGlyphs">100</text>
<text x="49.8" y="474.8" font-size="19.5" fill="#1f1f29" text-anchor="end" textLength="23.0" lengthAdjust="spacingAndGlyphs">50</text>
<text x="49.8" y="525.3" font-size="19.5" fill="#1f1f29" text-anchor="end">0</text>
<text x="159.8" y="549.8" font-size="19.5" fill="#1f1f29" text-anchor="middle" textLength="50.3" lengthAdjust="spacingAndGlyphs">2000</text>
<text x="256.8" y="549.8" font-size="19.5" fill="#1f1f29" text-anchor="middle" textLength="50.3" lengthAdjust="spacingAndGlyphs">4000</text>
<text x="353.8" y="549.8" font-size="19.5" fill="#1f1f29" text-anchor="middle" textLength="50.3" lengthAdjust="spacingAndGlyphs">6000</text>
<text x="450.8" y="549.8" font-size="19.5" fill="#1f1f29" text-anchor="middle" textLength="50.3" lengthAdjust="spacingAndGlyphs">8000</text>
<text x="63.0" y="549.8" font-size="19.5" fill="#1f1f29" text-anchor="middle">0</text>
<text class="s" x="549.6" y="28.9" font-size="20.4" fill="#1d1d22" text-anchor="end" textLength="127.6" lengthAdjust="spacingAndGlyphs">CRHB/6-560 N</text>
<text x="23.9" y="61.2" font-size="18.8" fill="#1f1f29" textLength="12" lengthAdjust="spacingAndGlyphs">p</text>
<text class="s" x="35.1" y="64.6" font-size="12" fill="#1f1f29" textLength="10.6" lengthAdjust="spacingAndGlyphs">st</text>
<text class="s" x="18.4" y="81.3" font-size="16" fill="#1f1f29" textLength="30.6" lengthAdjust="spacingAndGlyphs">(Pa)</text>
<text x="520.3" y="551.0" font-size="19.3" letter-spacing="0.45" fill="#1f1f29">Q [m<tspan class="s" font-size="12.5" dy="-6.3">3</tspan><tspan dy="6.3">/h]</tspan></text>
<text x="520.3" y="793.3" font-size="19.3" letter-spacing="0.45" fill="#1f1f29">Q [m<tspan class="s" font-size="12.5" dy="-6.3">3</tspan><tspan dy="6.3">/h]</tspan></text>
<path d="M159.5 579.0V761.0M256.5 579.0V761.0M353.5 579.0V761.0M450.5 579.0V761.0M63.0 624.5H548.0M63.0 669.5H548.0M63.0 715.5H548.0" stroke="#151515" stroke-width="1" fill="none"/>
<path d="M59 751H63M59 742H63M59 733H63M59 724H63M56 715H63M59 706H63M59 697H63M59 688H63M59 678H63M56 669H63M59 660H63M59 651H63M59 642H63M59 633H63M56 624H63M59 615H63M59 606H63M59 597H63M59 588H63M56 761H63M63 761.0V768M82 761.0V765M102 761.0V765M121 761.0V765M141 761.0V765M160 761.0V768M179 761.0V765M199 761.0V765M218 761.0V765M238 761.0V765M257 761.0V768M276 761.0V765M296 761.0V765M315 761.0V765M335 761.0V765M354 761.0V768M373 761.0V765M393 761.0V765M412 761.0V765M432 761.0V765M451 761.0V768M470 761.0V765M490 761.0V765M509 761.0V765M529 761.0V765" stroke="#151515" stroke-width="2" fill="none"/>
<rect x="512.9" y="619" width="33.8" height="12" fill="#fff"/>
<rect x="464.9" y="666" width="33.4" height="12" fill="#fff"/>
<path d="M122.8 654.4C123.7 654.0 126.4 652.6 128.2 651.8C130.0 650.9 131.8 650.0 133.6 649.2C135.4 648.3 137.2 647.5 139.0 646.6C140.8 645.8 142.7 644.9 144.5 644.1C146.3 643.3 148.1 642.5 150.0 641.7C151.8 640.9 153.6 640.1 155.5 639.3C157.3 638.5 159.2 637.7 161.0 636.9C162.9 636.1 164.7 635.3 166.6 634.6C168.5 633.8 170.3 633.1 172.2 632.3C174.1 631.6 175.9 630.8 177.8 630.1C179.7 629.3 181.6 628.6 183.5 627.9C185.3 627.2 187.2 626.5 189.1 625.8C191.0 625.1 192.9 624.4 194.8 623.7C196.7 623.0 198.6 622.3 200.5 621.6C202.4 620.9 204.3 620.3 206.2 619.6C208.2 618.9 210.1 618.3 212.0 617.6C213.9 617.0 215.8 616.4 217.8 615.7C219.7 615.1 221.6 614.5 223.5 613.8C225.5 613.2 227.4 612.6 229.3 612.0C231.3 611.4 233.2 610.8 235.2 610.2C237.1 609.6 239.0 609.1 241.0 608.5C242.9 607.9 244.9 607.4 246.8 606.8C248.8 606.3 250.7 605.7 252.7 605.2C254.6 604.7 256.6 604.2 258.6 603.7C260.5 603.2 262.5 602.7 264.4 602.2C266.4 601.8 268.4 601.3 270.3 600.9C272.3 600.4 274.3 600.0 276.2 599.6C278.2 599.2 280.2 598.8 282.2 598.5C284.1 598.1 286.1 597.8 288.1 597.5C290.1 597.1 292.0 596.8 294.0 596.6C296.0 596.3 298.0 596.0 300.0 595.8C301.9 595.6 303.9 595.4 305.9 595.2C307.9 595.0 309.9 594.9 311.9 594.8C313.8 594.6 315.8 594.5 317.8 594.5C319.8 594.4 321.8 594.4 323.8 594.4C325.8 594.4 327.8 594.4 329.8 594.4C331.7 594.5 333.7 594.5 335.7 594.6C337.7 594.7 339.7 594.9 341.7 595.0C343.7 595.2 345.7 595.4 347.7 595.6C349.7 595.7 351.6 596.0 353.6 596.2C355.6 596.4 357.6 596.7 359.6 597.0C361.6 597.3 363.6 597.6 365.6 597.9C367.6 598.2 369.6 598.5 371.5 598.9C373.5 599.2 375.5 599.6 377.5 599.9C379.5 600.3 381.5 600.7 383.5 601.1C385.5 601.5 387.5 601.9 389.4 602.3C391.4 602.7 393.4 603.1 395.4 603.6C397.4 604.0 399.4 604.4 401.3 604.9C403.3 605.3 405.3 605.8 407.3 606.2C409.3 606.7 411.2 607.1 413.2 607.6C415.2 608.0 417.2 608.5 419.1 609.0C421.1 609.4 423.1 609.9 425.0 610.3C427.0 610.8 429.0 611.2 431.0 611.7C432.9 612.2 434.9 612.6 436.8 613.1C438.8 613.6 440.8 614.0 442.7 614.5C444.7 615.0 446.6 615.4 448.6 615.9C450.6 616.4 452.5 616.9 454.5 617.4C456.4 617.9 458.4 618.3 460.3 618.8C462.2 619.3 464.2 619.9 466.1 620.4C468.1 620.9 470.0 621.4 471.9 621.9C473.9 622.5 475.8 623.0 477.7 623.5C479.7 624.1 481.6 624.7 483.5 625.2C485.4 625.8 487.4 626.4 489.3 627.0C491.2 627.6 493.1 628.2 495.0 628.8C496.9 629.4 498.8 630.0 500.8 630.6C502.7 631.3 504.6 631.9 506.5 632.6C508.4 633.3 510.2 634.0 512.1 634.7C514.0 635.4 516.9 636.4 517.8 636.8" stroke="#d2101e" stroke-width="3.2" fill="none"/>
<path d="M121.2 672.9C122.1 672.4 124.7 670.9 126.5 670.0C128.3 669.0 130.1 668.1 131.9 667.1C133.7 666.2 135.5 665.3 137.3 664.4C139.1 663.4 140.9 662.5 142.7 661.7C144.5 660.8 146.3 659.9 148.1 659.0C150.0 658.2 151.8 657.3 153.6 656.5C155.5 655.6 157.3 654.8 159.1 654.0C161.0 653.2 162.8 652.4 164.7 651.6C166.5 650.8 168.4 650.0 170.2 649.2C172.1 648.4 174.0 647.7 175.8 646.9C177.7 646.2 179.6 645.5 181.5 644.7C183.3 644.0 185.2 643.3 187.1 642.6C189.0 641.9 190.9 641.2 192.8 640.5C194.6 639.8 196.5 639.2 198.4 638.5C200.3 637.8 202.2 637.2 204.2 636.6C206.1 635.9 208.0 635.3 209.9 634.7C211.8 634.1 213.7 633.5 215.6 632.9C217.6 632.3 219.5 631.7 221.4 631.1C223.3 630.5 225.3 630.0 227.2 629.4C229.1 628.9 231.1 628.3 233.0 627.8C234.9 627.3 236.9 626.7 238.8 626.2C240.8 625.7 242.7 625.2 244.7 624.7C246.6 624.3 248.6 623.8 250.5 623.4C252.5 622.9 254.4 622.5 256.4 622.1C258.4 621.6 260.3 621.2 262.3 620.9C264.2 620.5 266.2 620.1 268.2 619.8C270.1 619.4 272.1 619.1 274.1 618.8C276.1 618.5 278.0 618.3 280.0 618.0C282.0 617.8 284.0 617.5 285.9 617.3C287.9 617.1 289.9 617.0 291.9 616.8C293.9 616.7 295.9 616.6 297.8 616.5C299.8 616.4 301.8 616.3 303.8 616.3C305.8 616.3 307.8 616.3 309.8 616.3C311.8 616.3 313.7 616.4 315.7 616.5C317.7 616.6 319.7 616.7 321.7 616.9C323.7 617.1 325.7 617.3 327.7 617.5C329.7 617.7 331.7 618.0 333.7 618.3C335.7 618.6 337.7 618.9 339.7 619.2C341.7 619.6 343.7 619.9 345.7 620.3C347.7 620.7 349.7 621.1 351.7 621.4C353.7 621.8 355.7 622.2 357.7 622.6C359.7 623.0 361.7 623.4 363.7 623.8C365.7 624.2 367.7 624.7 369.6 625.0C371.6 625.4 373.6 625.8 375.6 626.2C377.6 626.6 379.6 626.9 381.6 627.3C383.6 627.6 385.6 628.0 387.6 628.3C389.6 628.7 391.6 629.0 393.6 629.4C395.6 629.7 397.6 630.0 399.6 630.4C401.6 630.7 403.6 631.1 405.6 631.4C407.5 631.8 409.5 632.1 411.5 632.5C413.5 632.9 415.5 633.2 417.5 633.6C419.5 634.0 421.4 634.4 423.4 634.8C425.4 635.3 427.4 635.7 429.4 636.1C431.3 636.6 433.3 637.0 435.3 637.5C437.3 637.9 439.2 638.4 441.2 638.9C443.2 639.3 445.2 639.8 447.1 640.3C449.1 640.8 451.1 641.2 453.0 641.7C455.0 642.2 456.9 642.7 458.9 643.2C460.9 643.7 462.8 644.2 464.8 644.7C466.7 645.2 468.7 645.7 470.6 646.2C472.6 646.7 474.5 647.1 476.5 647.6C478.4 648.1 480.4 648.6 482.3 649.1C484.2 649.5 486.2 650.0 488.1 650.5C490.0 650.9 492.0 651.4 493.9 651.8C495.8 652.2 497.7 652.7 499.6 653.1C501.6 653.5 504.4 654.1 505.4 654.3" stroke="#d2101e" stroke-width="3.2" fill="none"/>
<path d="M117.7 684.5C118.6 684.0 121.3 682.6 123.1 681.6C124.9 680.7 126.8 679.8 128.6 678.8C130.4 677.9 132.3 677.0 134.1 676.1C135.9 675.2 137.8 674.3 139.6 673.5C141.5 672.6 143.3 671.8 145.2 670.9C147.1 670.1 148.9 669.3 150.8 668.5C152.7 667.7 154.5 666.9 156.4 666.1C158.3 665.4 160.2 664.6 162.1 663.9C164.0 663.2 165.9 662.5 167.8 661.8C169.7 661.1 171.6 660.5 173.5 659.8C175.4 659.2 177.3 658.6 179.2 658.0C181.1 657.4 183.1 656.8 185.0 656.3C186.9 655.7 188.8 655.2 190.8 654.7C192.7 654.2 194.7 653.7 196.6 653.3C198.5 652.8 200.5 652.4 202.4 652.0C204.4 651.6 206.3 651.3 208.3 650.9C210.3 650.6 212.2 650.3 214.2 650.0C216.1 649.8 218.1 649.5 220.1 649.3C222.0 649.1 224.0 648.9 226.0 648.8C228.0 648.6 229.9 648.5 231.9 648.4C233.9 648.3 235.9 648.2 237.9 648.1C239.9 648.1 241.9 648.0 243.9 648.0C245.8 648.0 247.8 648.0 249.8 648.0C251.8 648.1 253.8 648.1 255.8 648.2C257.8 648.2 259.8 648.3 261.8 648.4C263.8 648.4 265.9 648.5 267.9 648.7C269.9 648.8 271.9 648.9 273.9 649.0C275.9 649.1 277.9 649.3 279.9 649.4C281.9 649.6 284.0 649.7 286.0 649.9C288.0 650.1 290.0 650.2 292.0 650.4C294.1 650.6 296.1 650.7 298.1 650.9C300.1 651.1 302.1 651.3 304.2 651.5C306.2 651.7 308.2 651.9 310.2 652.1C312.3 652.2 314.3 652.4 316.3 652.6C318.3 652.8 320.4 653.0 322.4 653.2C324.4 653.4 326.4 653.6 328.5 653.8C330.5 654.0 332.5 654.2 334.6 654.4C336.6 654.6 338.6 654.8 340.6 655.0C342.7 655.2 344.7 655.4 346.7 655.5C348.7 655.7 350.8 655.9 352.8 656.1C354.8 656.3 356.8 656.4 358.9 656.6C360.9 656.8 362.9 657.0 364.9 657.2C367.0 657.4 369.0 657.6 371.0 657.8C373.0 658.0 375.0 658.2 377.1 658.4C379.1 658.6 381.1 658.8 383.1 659.0C385.1 659.3 387.1 659.5 389.1 659.7C391.2 659.9 393.2 660.2 395.2 660.4C397.2 660.7 399.2 660.9 401.2 661.1C403.2 661.4 405.2 661.7 407.2 661.9C409.2 662.2 411.2 662.4 413.2 662.7C415.2 663.0 417.2 663.2 419.2 663.5C421.2 663.8 423.2 664.1 425.2 664.4C427.1 664.6 429.1 664.9 431.1 665.2C433.1 665.5 435.1 665.8 437.0 666.1C439.0 666.4 441.0 666.7 443.0 667.0C444.9 667.3 446.9 667.7 448.9 668.0C450.8 668.3 452.8 668.6 454.7 668.9C456.7 669.2 459.6 669.7 460.6 669.9" stroke="#d2101e" stroke-width="3.2" fill="none"/>
<path d="M101.2 704.5C102.2 704.4 105.2 704.0 107.2 703.7C109.3 703.5 111.3 703.3 113.3 703.1C115.3 702.9 117.3 702.7 119.4 702.6C121.4 702.4 123.4 702.3 125.4 702.1C127.4 702.0 129.5 701.9 131.5 701.8C133.5 701.7 135.5 701.7 137.6 701.6C139.6 701.5 141.6 701.5 143.6 701.4C145.6 701.4 147.7 701.4 149.7 701.3C151.7 701.3 153.7 701.3 155.8 701.3C157.8 701.3 159.8 701.3 161.8 701.3C163.9 701.3 165.9 701.3 167.9 701.3C169.9 701.3 172.0 701.3 174.0 701.3C176.0 701.3 178.1 701.4 180.1 701.4C182.1 701.4 184.1 701.4 186.2 701.4C188.2 701.4 190.2 701.4 192.2 701.4C194.3 701.4 196.3 701.4 198.3 701.4C200.4 701.4 202.4 701.4 204.4 701.4C206.4 701.3 208.5 701.3 210.5 701.3C212.5 701.3 214.6 701.3 216.6 701.3C218.6 701.2 220.6 701.2 222.7 701.2C224.7 701.2 226.7 701.2 228.8 701.2C230.8 701.2 232.8 701.1 234.8 701.1C236.9 701.1 238.9 701.1 240.9 701.1C243.0 701.1 245.0 701.1 247.0 701.1C249.0 701.1 251.1 701.1 253.1 701.1C255.1 701.1 257.1 701.1 259.2 701.1C261.2 701.2 263.2 701.2 265.2 701.2C267.3 701.2 269.3 701.3 271.3 701.3C273.4 701.4 275.4 701.4 277.4 701.5C279.4 701.5 281.5 701.6 283.5 701.7C285.5 701.7 287.5 701.8 289.5 701.9C291.6 702.0 293.6 702.1 295.6 702.2C297.6 702.3 299.7 702.4 301.7 702.6C303.7 702.7 305.7 702.8 307.7 703.0C309.8 703.2 312.8 703.4 313.8 703.5" stroke="#d2101e" stroke-width="3.2" fill="none"/>
<rect x="63.0" y="579.0" width="485.0" height="182.0" fill="none" stroke="#151515" stroke-width="2"/>
<text class="s" x="514.3" y="630.1" font-size="12" fill="#d2101e" textLength="28.5" lengthAdjust="spacingAndGlyphs">230V</text>
<text class="s" x="511.8" y="658.7" font-size="12" fill="#d2101e" textLength="27.5" lengthAdjust="spacingAndGlyphs">180V</text>
<text class="s" x="467.2" y="677.7" font-size="12" fill="#d2101e" textLength="28.2" lengthAdjust="spacingAndGlyphs">140V</text>
<text class="s" x="319.8" y="708.6" font-size="12" fill="#d2101e" textLength="28.4" lengthAdjust="spacingAndGlyphs">100V</text>
<text x="49.8" y="631.8" font-size="19.5" fill="#d2101e" text-anchor="end" textLength="36.0" lengthAdjust="spacingAndGlyphs">750</text>
<text x="49.8" y="676.8" font-size="19.5" fill="#d2101e" text-anchor="end" textLength="36.0" lengthAdjust="spacingAndGlyphs">500</text>
<text x="49.8" y="722.8" font-size="19.5" fill="#d2101e" text-anchor="end" textLength="36.0" lengthAdjust="spacingAndGlyphs">250</text>
<text x="50.6" y="768.2" font-size="19.5" fill="#d2101e" text-anchor="end">0</text>
<text x="14.5" y="597.5" font-size="19.5" fill="#d2101e">P</text>
<text class="s" x="27.6" y="597.4" font-size="13.6" fill="#d2101e" textLength="24.6" lengthAdjust="spacingAndGlyphs">(W)</text>
<text x="159.8" y="792.0" font-size="19.5" fill="#1f1f29" text-anchor="middle" textLength="50.3" lengthAdjust="spacingAndGlyphs">2000</text>
<text x="256.8" y="792.0" font-size="19.5" fill="#1f1f29" text-anchor="middle" textLength="50.3" lengthAdjust="spacingAndGlyphs">4000</text>
<text x="353.8" y="792.0" font-size="19.5" fill="#1f1f29" text-anchor="middle" textLength="50.3" lengthAdjust="spacingAndGlyphs">6000</text>
<text x="450.8" y="792.0" font-size="19.5" fill="#1f1f29" text-anchor="middle" textLength="50.3" lengthAdjust="spacingAndGlyphs">8000</text>
<text x="63.0" y="792.0" font-size="19.5" fill="#1f1f29" text-anchor="middle">0</text>
</svg>
</body></html>
